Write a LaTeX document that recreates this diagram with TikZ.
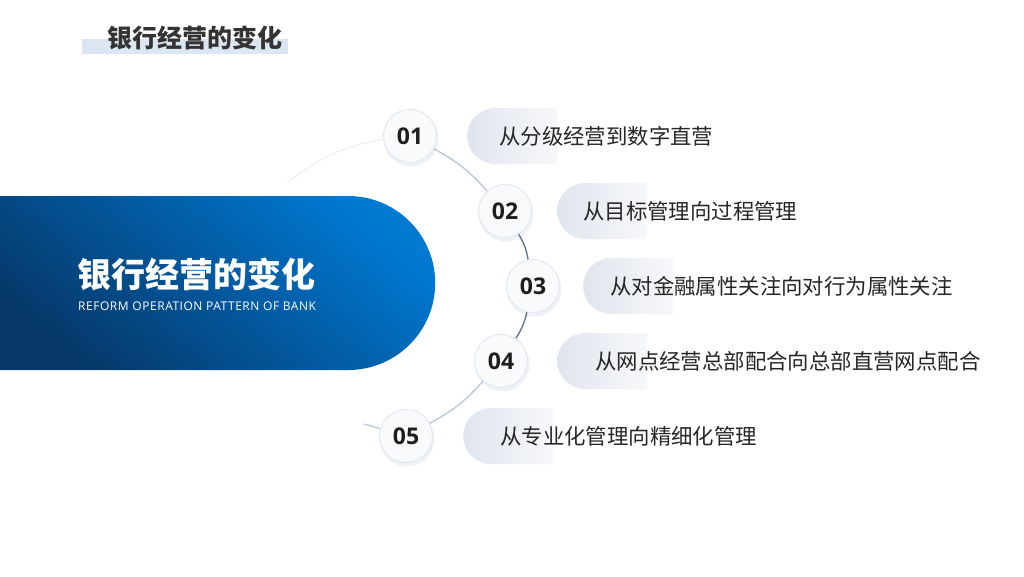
\documentclass[tikz,border=0pt]{standalone}
\usepackage{fontspec}
\setmainfont{Noto Sans CJK SC}
\newfontfamily\cjk{Noto Sans CJK SC}
\newfontfamily\latinf{Open Sans}
\newfontfamily\latinsp{Open Sans}[LetterSpace=4.5]
\usetikzlibrary{shapes.misc}
\definecolor{titlegray}{HTML}{333333}
\definecolor{underlay}{HTML}{DCE6F2}
\definecolor{bluedark}{HTML}{06386A}
\definecolor{bluemid}{HTML}{0066B6}
\definecolor{bluelight}{HTML}{0079D3}
\definecolor{pillleft}{HTML}{E0E5ED}
\definecolor{pillright}{HTML}{F7F8FA}
\definecolor{circfill}{HTML}{F8FAFC}
\definecolor{circline}{HTML}{E3E8F0}
\definecolor{shadowc}{HTML}{EEF1F5}
\definecolor{labeltext}{HTML}{262626}
\definecolor{numtext}{HTML}{1E1E1E}
\definecolor{connlight}{HTML}{BAC6D6}
\definecolor{conndark}{HTML}{5B7090}
\definecolor{connfaint}{HTML}{EDF0F4}
\tikzset{
  numcircle/.style={circle, minimum size=53pt, inner sep=0pt, fill=circfill, draw=circline, line width=1pt,
    font=\latinf\bfseries\fontsize{23}{23}\selectfont, text=numtext},
  numshadow/.style={circle, minimum size=55pt, inner sep=0pt, fill=shadowc, draw=none},
  pill/.style={rounded rectangle, rounded rectangle right arc=none, minimum width=90pt, minimum height=56pt,
    inner sep=0pt, left color=pillleft, right color=pillright, draw=none},
  label/.style={anchor=west, inner sep=0pt, font=\cjk\fontsize{21.4}{22}\selectfont, text=labeltext},
  conn/.style={line width=1.3pt},
}
\begin{document}
\begin{tikzpicture}[x=1pt,y=-1pt]
\useasboundingbox (0,0) rectangle (1024,576);
\fill[white] (0,0) rectangle (1024,576);
% top-left title
\fill[underlay] (82,39) rectangle (288,54);
\node[anchor=west, inner sep=0pt, font=\cjk\bfseries\fontsize{25}{25}\selectfont, text=titlegray] (toptitle) at (107,38) {银行经营的变化};
% big blue banner
\node[rounded rectangle, rounded rectangle left arc=none, minimum width=435pt, minimum height=174pt, inner sep=0pt,
      anchor=west, left color=bluedark, middle color=bluemid, right color=bluelight, shading angle=140, draw=none] (banner) at (0,283) {};
\node[anchor=west, inner sep=0pt, font=\cjk\bfseries\fontsize{34}{34}\selectfont, text=white] (maintitle) at (77,274) {银行经营的变化};
\node[anchor=west, inner sep=0pt, font=\latinsp\fontsize{12}{12}\selectfont, text=white] (subtitle) at (78,306) {REFORM OPERATION PATTERN OF BANK};
% pills
\node[pill, anchor=west] (p1) at (467,136) {};
\node[pill, anchor=west] (p2) at (557,211) {};
\node[pill, anchor=west] (p3) at (583,286) {};
\node[pill, anchor=west] (p4) at (557,361) {};
\node[pill, anchor=west] (p5) at (463,436) {};
\node[label] (l1) at (499,136) {从分级经营到数字直营};
\node[label] (l2) at (583,211) {从目标管理向过程管理};
\node[label] (l3) at (610,286) {从对金融属性关注向对行为属性关注};
\node[label] (l4) at (595,361) {从网点经营总部配合向总部直营网点配合};
\node[label] (l5) at (500,436) {从专业化管理向精细化管理};
% connector ends
\coordinate (e1) at (287,183);
\coordinate (e5) at (364,424);
% soft shadows under the circles
\node[numshadow] (s1) at (411,139) {};
\node[numshadow] (s2) at (506,214) {};
\node[numshadow] (s3) at (534,289) {};
\node[numshadow] (s4) at (502,364) {};
\node[numshadow] (s5) at (407,439) {};
% number circles
\node[numcircle] (n1) at (410,136) {01};
\node[numcircle] (n2) at (505,211) {02};
\node[numcircle] (n3) at (533,286) {03};
\node[numcircle] (n4) at (501,361) {04};
\node[numcircle] (n5) at (406,436) {05};
% connectors
\draw[conn, connfaint] (n1) to[bend right=14] (e1);
\draw[conn, connlight] (n1) to[bend left=10] (n2);
\draw[conn, conndark] (n2) to[bend left=10] (n3);
\draw[conn, conndark] (n3) to[bend left=10] (n4);
\draw[conn, connlight] (n4) to[bend left=10] (n5);
\draw[conn, connlight] (n5) -- (e5);
\end{tikzpicture}
\end{document}
